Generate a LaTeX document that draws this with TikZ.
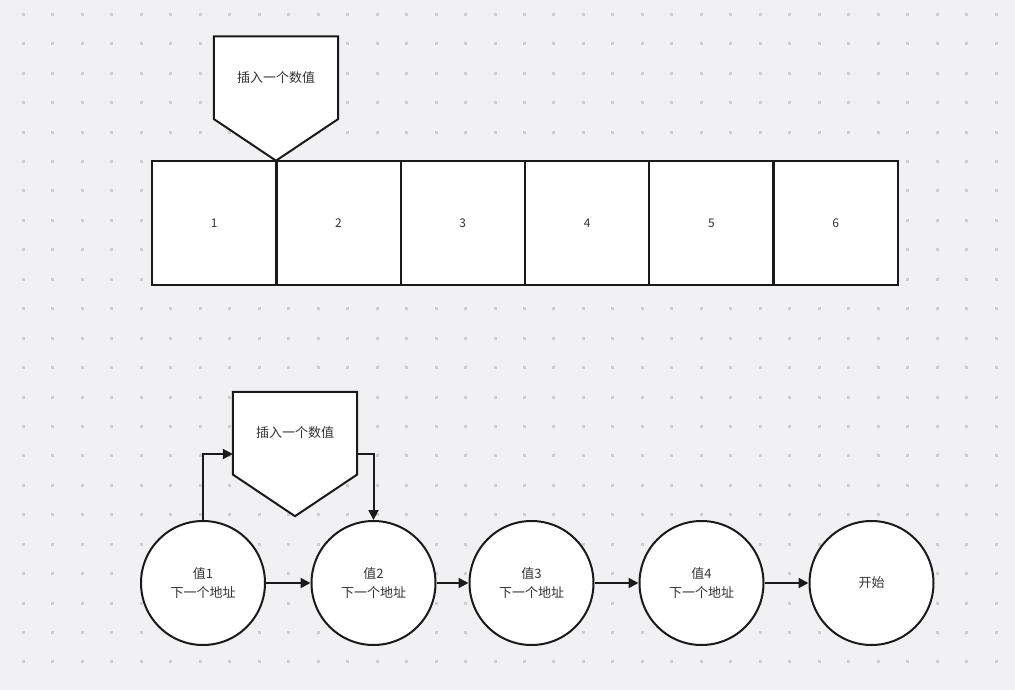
\documentclass[tikz,border=0pt]{standalone}
\usepackage{fontspec}
\setmainfont{Noto Sans CJK SC}
\usetikzlibrary{arrows.meta}
\definecolor{bgc}{RGB}{241,241,243}
\definecolor{dotc}{RGB}{206,206,208}
\definecolor{linec}{RGB}{26,26,26}
\definecolor{txtc}{RGB}{51,51,51}
\begin{document}
\begin{tikzpicture}[x=1pt,y=-1pt,
  cell/.style={draw=linec,line width=2pt,fill=white,minimum size=124pt,inner sep=0pt,text=txtc,font=\fontsize{12}{14}\selectfont},
  ring/.style={circle,draw=linec,line width=2pt,fill=white,minimum size=124pt,inner sep=0pt,text=txtc,align=center,font=\fontsize{13}{19}\selectfont},
  pentbox/.style={minimum size=124pt,inner sep=0pt},
  pentline/.style={draw=linec,line width=2pt,fill=white,line join=miter},
  lbl/.style={text=txtc,font=\fontsize{13}{16}\selectfont},
  arr/.style={-{Triangle[length=10pt,width=10pt]},line width=2pt,draw=linec}]
\useasboundingbox (0,0) rectangle (1015,690);
\fill[bgc] (0,0) rectangle (1015,690);
\foreach \i in {0,...,33}
  \foreach \j in {0,...,22}
    \fill[dotc] (22+29.47*\i,12.8+29.44*\j) rectangle ++(3,3);
% array cells
\foreach \i in {1,...,6}
  \node[cell](N\i) at (214.2+124.3*\i-124.3,223){\i};
% insert marker above the array
\node[pentbox](I1) at (276,98.5){};
\path[pentline] (I1.north west) -- (I1.north east) -- ([yshift=-20.5pt]I1.east) -- (I1.south) -- ([yshift=-20.5pt]I1.west) -- cycle;
\node[lbl](T1) at ([yshift=21pt]I1.center){插入一个数值};
% linked list
\node[ring](C1) at (203,583){值1\\下一个地址};
\node[ring](C2) at (373.5,583){值2\\下一个地址};
\node[ring](C3) at (531.5,583){值3\\下一个地址};
\node[ring](C4) at (701.5,583){值4\\下一个地址};
\node[ring](C5) at (871.5,583){开始};
\draw[arr] (C1) -- (C2);
\draw[arr] (C2) -- (C3);
\draw[arr] (C3) -- (C4);
\draw[arr] (C4) -- (C5);
% insert marker between 1 and 2
\node[pentbox](I2) at (295,454){};
\path[pentline] (I2.north west) -- (I2.north east) -- ([yshift=-20.5pt]I2.east) -- (I2.south) -- ([yshift=-20.5pt]I2.west) -- cycle;
\node[lbl](T2) at ([yshift=21pt]I2.center){插入一个数值};
\draw[arr] (C1.north) |- (I2.west);
\draw[arr] (I2.east) -| (C2.north);
\end{tikzpicture}
\end{document}
